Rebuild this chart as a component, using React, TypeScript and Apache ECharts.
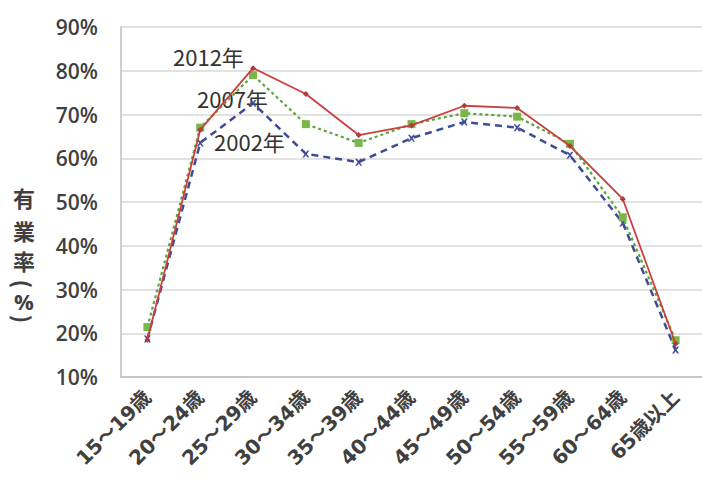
import React, { useEffect, useRef } from "react";
import * as echarts from "echarts";

const categories = ["15～19歳", "20～24歳", "25～29歳", "30～34歳", "35～39歳", "40～44歳", "45～49歳", "50～54歳", "55～59歳", "60～64歳", "65歳以上"];
const y2012 = [18.5, 66.5, 80.6, 74.7, 65.3, 67.5, 72.0, 71.5, 62.8, 50.7, 17.6];
const y2007 = [21.4, 67.0, 79.0, 67.8, 63.5, 67.8, 70.3, 69.5, 63.3, 46.5, 18.4];
const y2002 = [18.7, 63.5, 72.6, 61.0, 59.1, 64.6, 68.3, 67.0, 60.7, 45.2, 16.2];
const seriesNames = ["2012年", "2007年", "2002年"];
const yTicks = { min: 10, max: 90, interval: 10 };
const yAxisName = ["有", "業", "率", "(", "%", ")"];

const CJK = '"Noto Sans CJK JP", "Noto Sans", sans-serif';
const LAT = '"Open Sans", "Noto Sans", sans-serif';
const XLAB = '"DejaVu Sans", "Noto Sans CJK JP", sans-serif';
const xSym = "path://M0 0L2.5 0L5 3L7.5 0L10 0L6.5 5L10 10L7.5 10L5 7L2.5 10L0 10L3.5 5Z";

const nameY = [197, 230, 260, 284, 301, 319];

export default function App() {
  const ref = useRef<HTMLDivElement>(null);
  useEffect(() => {
    if (!ref.current) return;
    const chart = echarts.init(ref.current, undefined, { renderer: "svg" });
    const nameTexts = yAxisName.map((ch, i) => {
      const isParen = ch === "(" || ch === ")";
      return {
        type: "text",
        x: 24,
        y: nameY[i],
        rotation: isParen ? -Math.PI / 2 : 0,
        style: {
          text: ch,
          fontSize: 22,
          lineHeight: ch === "%" ? 18 : 24,
          fontWeight: "bold",
          fill: "#404040",
          fontFamily: ch === "%" ? LAT : CJK,
          align: "center",
          verticalAlign: "middle",
        },
      };
    });
    chart.setOption({
      animation: false,
      backgroundColor: "#ffffff",
      grid: { left: 121, top: 27, bottom: 106, right: -8, containLabel: false },
      xAxis: {
        type: "category",
        data: categories,
        boundaryGap: true,
        axisLine: { show: true, lineStyle: { color: "#bfbfbf", width: 1.5 } },
        axisTick: { show: false },
        axisLabel: {
          rotate: 45,
          interval: 0,
          fontSize: 20,
          color: "#404040",
          fontFamily: XLAB,
          fontWeight: "bold",
          margin: 17,
        },
      },
      yAxis: {
        type: "value",
        min: yTicks.min,
        max: yTicks.max,
        interval: yTicks.interval,
        axisLine: { show: true, lineStyle: { color: "#bfbfbf", width: 1.5 } },
        axisTick: { show: false },
        splitLine: { show: true, lineStyle: { color: "#d9d9d9", width: 1.5 } },
        axisLabel: {
          formatter: (v: number) => v + "%",
          fontSize: 21,
          color: "#404040",
          fontFamily: LAT,
          fontWeight: 600,
          margin: 23,
        },
      },
      series: [
        {
          name: seriesNames[2],
          type: "line",
          data: y2002,
          symbol: xSym,
          symbolSize: 7,
          lineStyle: { color: "#3f4c96", width: 2.5, type: [7, 5] },
          itemStyle: { color: "#3f4c96" },
          z: 2,
        },
        {
          name: seriesNames[1],
          type: "line",
          data: y2007,
          symbol: "rect",
          symbolSize: 8,
          lineStyle: { color: "#5aa53a", width: 2.2, type: [3, 3] },
          itemStyle: { color: "#7ab648" },
          z: 3,
        },
        {
          name: seriesNames[0],
          type: "line",
          data: y2012,
          symbol: "diamond",
          symbolSize: 6,
          lineStyle: { color: "#cc3f3f", width: 1.8, type: "solid" },
          itemStyle: { color: "#b03a3a" },
          z: 4,
        },
      ],
      graphic: [
        {
          type: "text",
          left: 173,
          top: 45,
          style: { text: seriesNames[0], fontSize: 22, fill: "#333333", fontFamily: CJK },
        },
        {
          type: "text",
          left: 197,
          top: 87,
          style: { text: seriesNames[1], fontSize: 22, fill: "#333333", fontFamily: CJK },
        },
        {
          type: "text",
          left: 214,
          top: 130,
          style: { text: seriesNames[2], fontSize: 22, fill: "#333333", fontFamily: CJK },
        },
        ...nameTexts,
      ],
    });
    return () => chart.dispose();
  }, []);
  return <div ref={ref} style={{ width: 702, height: 483, position: "absolute", left: 0, top: 0 }} />;
}
